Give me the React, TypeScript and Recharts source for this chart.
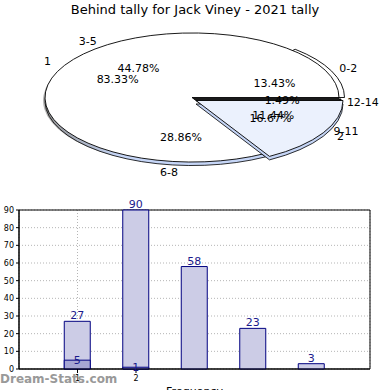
import React from 'react';
import { PieChart, Pie, Cell, BarChart, Bar, XAxis, YAxis, CartesianGrid, LabelList, ReferenceArea } from 'recharts';

// tally ranges (outer pie + bars)
const rangeNames = ['0-2', '3-5', '6-8', '9-11', '12-14'];
const rangeCounts = [27, 90, 58, 23, 3];
// frequency (inner pie + overlaid bars)
const freqNames = ['1', '2'];
const freqCounts = [5, 1];
const yTicks = [0, 10, 20, 30, 40, 50, 60, 70, 80, 90];

const FONT = '"DejaVu Sans", sans-serif';
const CX = 194;
const CY = 99;
const RX = 147;
const RATIO = 0.439;
const DEPTH = 3.5;

const rangeData = rangeNames.map((name, i) => ({ name, value: rangeCounts[i] }));
const freqData = freqNames.map((name, i) => ({ name, value: freqCounts[i] }));
const barData = rangeNames.map((name, i) => ({ pos: i + 1, name, count: rangeCounts[i], freq: freqCounts[i] }));

const rad = Math.PI / 180;

const pt = (cx: number, cy: number, rx: number, ry: number, a: number) => [cx + rx * Math.cos(a * rad), cy - ry * Math.sin(a * rad)];

const slicePath = (cx: number, cy: number, rx: number, ry: number, a0: number, a1: number) => {
  const [x0, y0] = pt(cx, cy, rx, ry, a0);
  const [x1, y1] = pt(cx, cy, rx, ry, a1);
  const large = Math.abs(a1 - a0) > 180 ? 1 : 0;
  const sweep = a1 > a0 ? 0 : 1;
  return `M${cx},${cy} L${x0},${y0} A${rx},${ry} 0 ${large} ${sweep} ${x1},${y1} Z`;
};

const explode = (name: string) => {
  if (name === '0-2') return [3.5, -1.5];
  if (name === '1') return [-2, -1.5];
  if (name === '2') return [2, 1.5];
  return [0, 0];
};

const EllipseSlice = (props: any) => {
  const { cx, cy, outerRadius, startAngle, endAngle, fill } = props;
  const name = props.payload?.name ?? props.name;
  const [dx, dy] = explode(name);
  const ox = cx + dx;
  const oy = cy + dy;
  const ry = outerRadius * RATIO;
  const d = slicePath(ox, oy, outerRadius, ry, startAngle, endAngle);
  const wall = slicePath(ox, oy + DEPTH, outerRadius, ry, startAngle, endAngle);
  if (name === '1') {
    const [ex, ey] = pt(ox, oy, outerRadius, ry, startAngle);
    return (
      <g>
        <path d={d} transform="translate(-2,3)" fill="#777" opacity={0.55} />
        <path d={wall} fill="url(#wallGrad)" stroke="#000" strokeWidth={0.8} />
        <path d={`M${ox},${oy} L${ex},${ey} L${ex},${ey + DEPTH} L${ox},${oy + DEPTH} Z`} fill="#1a1a1a" />
        <path d={d} fill={fill} stroke="#000" strokeWidth={0.9} />
      </g>
    );
  }
  if (name === '2') {
    return (
      <g>
        <path d={wall} fill="#c4d4f5" stroke="#000" strokeWidth={0.8} />
        <path d={d} fill={fill} stroke="#000" strokeWidth={0.9} />
      </g>
    );
  }
  return <path d={d} fill={fill} stroke="#000" strokeWidth={0.9} />;
};

const makeLabel = (f: number) => (p: any) => {
  const { midAngle, percent, name, cx, cy } = p;
  const ry = RX * RATIO;
  const c = Math.cos(midAngle * rad);
  const s = Math.sin(midAngle * rad);
  return (
    <g>
      <text x={cx + RX * c * f} y={cy - ry * s * f} textAnchor="middle" dominantBaseline="central" fontSize={11} fontFamily={FONT} fill="#000">
        {name}
      </text>
      <text x={cx + RX * c * 0.6} y={cy - ry * s * 0.6} textAnchor="middle" dominantBaseline="central" fontSize={11} fontFamily={FONT} fill="#000">
        {(percent * 100).toFixed(2)}%
      </text>
    </g>
  );
};

const rangeFill = ['#ffffff', '#ffffff', '#c6d6f7', '#ffffff', '#1a1a1a'];
const freqFill = ['#ffffff', '#ebf1fd'];

export default function App() {
  return (
    <div style={{ position: 'absolute', left: 0, top: 0, width: 390, height: 390, overflow: 'hidden', background: '#fff' }}>
      <div style={{ position: 'absolute', top: 2, width: 390, textAlign: 'center', fontFamily: FONT, fontSize: 13, color: '#000' }}>
        Behind tally for Jack Viney - 2021 tally
      </div>
      <div style={{ position: 'absolute', left: 0, top: 0 }}>
        <PieChart width={390} height={195} margin={{ top: 0, right: 0, bottom: 0, left: 0 }}>
          <defs>
            <linearGradient id="wallGrad" x1="0" y1="0" x2="1" y2="0">
              <stop offset="0%" stopColor="#8f8f8f" />
              <stop offset="25%" stopColor="#c6d6f7" />
              <stop offset="100%" stopColor="#c6d6f7" />
            </linearGradient>
          </defs>
          <Pie
            data={rangeData}
            dataKey="value"
            nameKey="name"
            cx={CX}
            cy={CY}
            outerRadius={RX}
            startAngle={0}
            endAngle={360}
            stroke="#000"
            shape={EllipseSlice}
            inactiveShape={EllipseSlice}
            label={makeLabel(1.15)}
            labelLine={false}
            isAnimationActive={false}
          >
            {rangeData.map((d, i) => (
              <Cell key={d.name} fill={rangeFill[i]} />
            ))}
          </Pie>
          <Pie
            data={freqData}
            dataKey="value"
            nameKey="name"
            cx={CX}
            cy={CY}
            outerRadius={RX}
            startAngle={0}
            endAngle={360}
            stroke="#000"
            shape={EllipseSlice}
            inactiveShape={EllipseSlice}
            label={makeLabel(1.15)}
            labelLine={false}
            isAnimationActive={false}
          >
            {freqData.map((d, i) => (
              <Cell key={d.name} fill={freqFill[i]} />
            ))}
          </Pie>
        </PieChart>
      </div>
      <div style={{ position: 'absolute', left: 0, top: 195 }}>
        <BarChart width={390} height={200} data={barData} margin={{ top: 15, right: 20, bottom: 0, left: 0 }}>
          <CartesianGrid stroke="#b5b5b5" strokeDasharray="1 2" />
          <XAxis
            type="number"
            dataKey="pos"
            domain={[0, 6]}
            ticks={[1, 2]}
            tickFormatter={(v: number) => freqNames[v - 1]}
            height={26}
            tickSize={4}
            tick={{ fontSize: 8, fill: '#000', fontFamily: FONT }}
            stroke="#000"
            label={{ value: 'Frequency', position: 'insideBottom', offset: 0, fontSize: 11, fill: '#000', fontFamily: FONT }}
          />
          <XAxis xAxisId="freq" type="number" dataKey="pos" domain={[0, 6]} hide />
          <YAxis
            domain={[0, 90]}
            ticks={yTicks}
            interval={0}
            width={19}
            tickSize={3}
            tick={{ fontSize: 8, fill: '#000', fontFamily: FONT }}
            stroke="#000"
          />
          <Bar dataKey="count" barSize={26} fill="#ccccE6" stroke="#000080" strokeWidth={1} isAnimationActive={false}>
            <LabelList dataKey="count" position="top" offset={2} fontSize={11} fill="#1a1a8c" fontFamily={FONT} />
          </Bar>
          <Bar dataKey="freq" xAxisId="freq" barSize={26} fill="#a6a6d3" stroke="#000080" strokeWidth={1} isAnimationActive={false}>
            <LabelList dataKey="freq" position="top" offset={-4} fontSize={11} fill="#1a1a8c" fontFamily={FONT} />
          </Bar>
          <ReferenceArea x1={0} x2={6} y1={0} y2={90} fill="none" stroke="#000" strokeWidth={1} />
        </BarChart>
      </div>
      <div style={{ position: 'absolute', left: 0, top: 372, fontFamily: FONT, fontSize: 12, fontWeight: 'bold', color: '#999' }}>
        Dream-Stats.com
      </div>
    </div>
  );
}
